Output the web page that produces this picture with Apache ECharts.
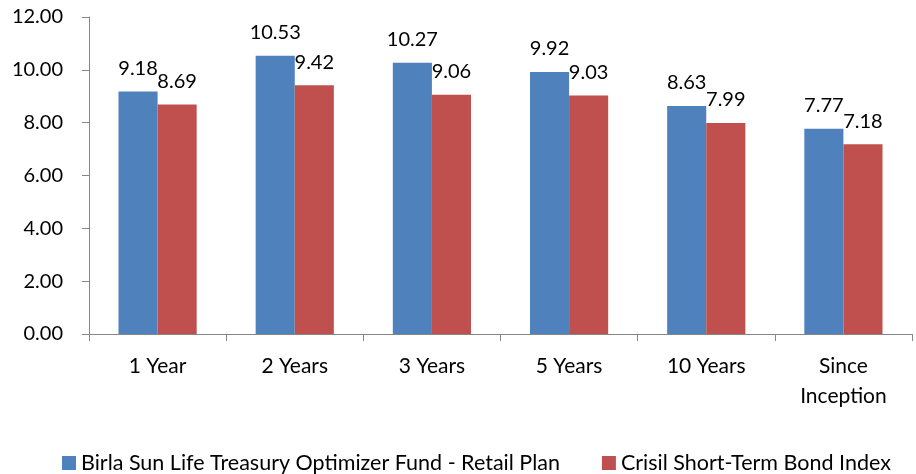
<!DOCTYPE html>
<html>
<head>
<meta charset="utf-8">
<script src="https://cdn.jsdelivr.net/npm/echarts@6/dist/echarts.min.js"></script>
<style>html,body{margin:0;padding:0;background:#fff;}#c{width:916px;height:474px;}</style>
</head>
<body>
<div id="c"></div>
<script>
var categories = ['1 Year', '2 Years', '3 Years', '5 Years', '10 Years', 'Since\nInception'];
var fundValues = [9.18, 10.53, 10.27, 9.92, 8.63, 7.77];
var indexValues = [8.69, 9.42, 9.06, 9.03, 7.99, 7.18];
var seriesNames = ['Birla Sun Life Treasury Optimizer Fund - Retail Plan', 'Crisil Short-Term Bond Index'];
var FONT = 'Lato';
var chart = echarts.init(document.getElementById('c'));
var labelCfg = {
  show: true, position: 'top', distance: 13, color: '#000',
  fontFamily: FONT, fontSize: 20,
  formatter: function (p) { return p.value.toFixed(2); }
};
chart.setOption({
  animation: false,
  grid: { left: 89, right: 4, top: 17, bottom: 140, containLabel: false },
  legend: {
    top: 452, left: 62, width: 854, padding: 0, itemGap: 42, itemTextGap: 5,
    itemWidth: 14, itemHeight: 14, icon: 'rect',
    textStyle: { fontFamily: FONT, fontSize: 21.5, color: '#000' },
    data: seriesNames
  },
  xAxis: {
    type: 'category', data: categories,
    axisLine: { lineStyle: { color: '#868686', width: 1 } },
    axisTick: { show: true, length: 7, lineStyle: { color: '#868686' } },
    axisLabel: { fontFamily: FONT, fontSize: 21, color: '#000', margin: 17, lineHeight: 30, interval: 0 }
  },
  yAxis: {
    type: 'value', min: 0, max: 12, interval: 2,
    axisLine: { show: true, lineStyle: { color: '#868686', width: 1 } },
    axisTick: { show: true, length: 7, lineStyle: { color: '#868686' } },
    splitLine: { show: false },
    axisLabel: { fontFamily: FONT, fontSize: 20, color: '#000', margin: 26,
      formatter: function (v) { return v.toFixed(2); } }
  },
  series: [
    { name: seriesNames[0], type: 'bar', data: fundValues, barGap: '0%', barCategoryGap: '43%',
      itemStyle: { color: '#4F81BD' }, label: labelCfg },
    { name: seriesNames[1], type: 'bar', data: indexValues,
      itemStyle: { color: '#C0504D' }, label: labelCfg }
  ]
});
</script>
</body>
</html>
